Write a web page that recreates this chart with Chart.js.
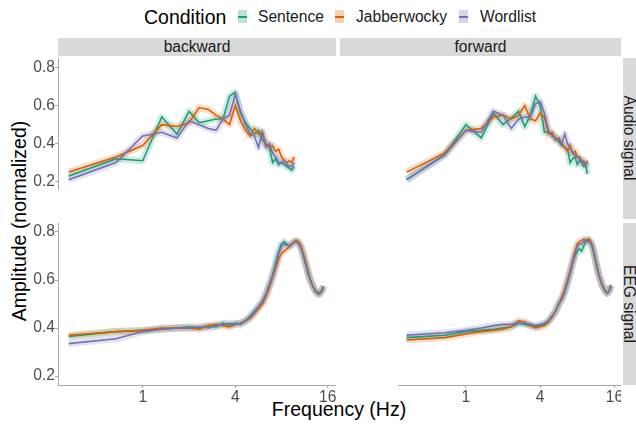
<!DOCTYPE html>
<html lang="en">
<head>
<meta charset="UTF-8">
<title>Amplitude spectra by condition</title>
<style>
  body { margin: 0; width: 636px; height: 425px; overflow: hidden; background: #fff; position: relative;
         font-family: "Liberation Sans", Arial, sans-serif; }
  canvas { position: absolute; }
  .strip { position: absolute; background: #d9d9d9; color: #1a1a1a; font-size: 15.6px;
           display: flex; align-items: center; justify-content: center; }
  .vstrip { writing-mode: vertical-rl; overflow: visible; }
  .vbg { position: absolute; background: #d9d9d9; }
  .txt { position: absolute; white-space: nowrap; line-height: 1; }
  .key { position: absolute; width: 9px; height: 13px; }
  .key i { position: absolute; left: 0; right: 0; top: 5.5px; height: 2px; }
</style>
</head>
<body>

<!-- legend -->
<div class="txt" style="left:144px; top:8px; font-size:19.5px; color:#000;">Condition</div>
<div class="key" style="left:238px; top:10px; background:rgba(27,158,119,0.3);"><i style="background:#1b9e77"></i></div>
<div class="txt" style="left:258px; top:9px; font-size:15.6px; color:#1a1a1a;">Sentence</div>
<div class="key" style="left:335px; top:10px; background:rgba(217,95,2,0.3);"><i style="background:#d95f02"></i></div>
<div class="txt" style="left:356px; top:9px; font-size:15.6px; color:#1a1a1a;">Jabberwocky</div>
<div class="key" style="left:459px; top:10px; background:rgba(117,112,179,0.3);"><i style="background:#7570b3"></i></div>
<div class="txt" style="left:480px; top:9px; font-size:15.6px; color:#1a1a1a;">Wordlist</div>

<!-- strips -->
<div class="strip" style="left:58px; top:38px; width:278px; height:18px;">backward</div>
<div class="strip" style="left:340px; top:38px; width:281px; height:18px;">forward</div>
<div class="vbg" style="left:623px; top:58px; width:20px; height:161px;"></div>
<div class="vbg" style="left:623px; top:223px; width:20px; height:162px;"></div>
<div class="txt" style="left:629px; top:138px; font-size:15.6px; color:#1a1a1a; transform:translate(-50%,-50%) rotate(90deg);">Audio signal</div>
<div class="txt" style="left:629px; top:304px; font-size:15.6px; color:#1a1a1a; transform:translate(-50%,-50%) rotate(90deg);">EEG signal</div>

<!-- axis titles -->
<div class="txt" style="left:20px; top:221px; font-size:19.5px; color:#000; transform:translate(-50%,-50%) rotate(-90deg);">Amplitude (normalized)</div>
<div class="txt" style="left:339px; top:410px; font-size:19.5px; color:#000; transform:translate(-50%,-50%);">Frequency (Hz)</div>

<canvas id="tl" width="336" height="161" style="left:0; top:58px;"></canvas>
<canvas id="tr" width="281" height="161" style="left:340px; top:58px;"></canvas>
<canvas id="bl" width="336" height="192" style="left:0; top:223px;"></canvas>
<canvas id="br" width="281" height="192" style="left:340px; top:223px;"></canvas>

<script src="https://cdn.jsdelivr.net/npm/chart.js"></script>
<script>
const conditions = ['Sentence', 'Jabberwocky', 'Wordlist'];
const colors = ['#1b9e77', '#d95f02', '#7570b3'];
const bands = ['rgba(27,158,119,0.2)', 'rgba(217,95,2,0.2)', 'rgba(117,112,179,0.2)'];
const xTicks = [1, 4, 16];
const yTicks = [0.2, 0.4, 0.6, 0.8];

const audioFreqs = [0.33, 0.67, 1, 1.33, 1.67, 2, 2.33, 2.67, 3, 3.33, 3.67, 4, 4.33, 4.67, 5,
  5.33, 5.67, 6, 6.33, 6.67, 7, 7.33, 7.67, 8, 8.33, 8.67, 9, 9.33, 9.67];
const eegFreqs = [0.33, 0.67, 1, 1.33, 1.67, 2, 2.33, 2.67, 3, 3.33, 3.67, 4, 4.33, 4.67, 5,
  5.33, 5.67, 6, 6.33, 6.67, 7, 7.33, 7.67, 8, 8.33, 8.67, 9, 9.33, 9.67, 10,
  10.33, 10.67, 11, 11.33, 11.67, 12, 12.33, 12.67, 13, 13.33, 13.67, 14, 14.33, 14.67, 15];

// audio signal, backward
const audioBwdSentence = [0.23, 0.32, 0.31, 0.54, 0.45, 0.57, 0.51, 0.52, 0.53, 0.53, 0.65, 0.67, 0.56, 0.51, 0.48,
  0.45, 0.47, 0.42, 0.40, 0.38, 0.30, 0.32, 0.29, 0.30, 0.29, 0.28, 0.27, 0.26, 0.28];
const audioBwdJabber = [0.25, 0.33, 0.39, 0.50, 0.49, 0.51, 0.59, 0.58, 0.55, 0.53, 0.50, 0.60, 0.52, 0.47, 0.44,
  0.48, 0.45, 0.46, 0.40, 0.38, 0.39, 0.36, 0.37, 0.33, 0.31, 0.30, 0.31, 0.30, 0.33];
const audioBwdWord = [0.21, 0.30, 0.44, 0.46, 0.43, 0.52, 0.50, 0.48, 0.47, 0.53, 0.55, 0.66, 0.57, 0.50, 0.45,
  0.44, 0.38, 0.46, 0.38, 0.40, 0.35, 0.33, 0.30, 0.30, 0.31, 0.29, 0.28, 0.28, 0.30];

// audio signal, forward
const audioFwdSentence = [0.21, 0.34, 0.50, 0.43, 0.56, 0.50, 0.535, 0.57, 0.49, 0.55, 0.65, 0.60, 0.46, 0.46, 0.45,
  0.43, 0.41, 0.39, 0.38, 0.37, 0.30, 0.32, 0.33, 0.29, 0.31, 0.30, 0.28, 0.29, 0.24];
const audioFwdJabber = [0.25, 0.35, 0.47, 0.48, 0.54, 0.55, 0.53, 0.55, 0.60, 0.53, 0.52, 0.56, 0.54, 0.45, 0.46,
  0.42, 0.43, 0.40, 0.38, 0.36, 0.39, 0.35, 0.36, 0.33, 0.33, 0.31, 0.30, 0.29, 0.31];
const audioFwdWord = [0.21, 0.34, 0.47, 0.46, 0.57, 0.55, 0.48, 0.53, 0.54, 0.54, 0.61, 0.62, 0.56, 0.47, 0.44,
  0.43, 0.42, 0.40, 0.45, 0.40, 0.38, 0.35, 0.34, 0.33, 0.32, 0.30, 0.31, 0.29, 0.30];

// EEG signal, backward
const eegBwdSentence = [0.365, 0.385, 0.39, 0.395, 0.40, 0.405, 0.40, 0.41, 0.405, 0.42, 0.41, 0.42, 0.415, 0.43, 0.45,
  0.47, 0.49, 0.51, 0.54, 0.58, 0.62, 0.67, 0.72, 0.75, 0.76, 0.75, 0.74, 0.75, 0.76, 0.76,
  0.755, 0.74, 0.71, 0.68, 0.65, 0.62, 0.60, 0.58, 0.565, 0.555, 0.55, 0.545, 0.55, 0.56, 0.575];
const eegBwdJabber = [0.37, 0.385, 0.39, 0.40, 0.40, 0.40, 0.395, 0.41, 0.415, 0.41, 0.405, 0.415, 0.42, 0.43, 0.44,
  0.46, 0.48, 0.50, 0.53, 0.57, 0.61, 0.65, 0.69, 0.71, 0.72, 0.73, 0.74, 0.75, 0.76, 0.765,
  0.76, 0.745, 0.72, 0.69, 0.66, 0.63, 0.60, 0.58, 0.565, 0.555, 0.545, 0.54, 0.545, 0.555, 0.57];
const eegBwdWord = [0.335, 0.355, 0.385, 0.395, 0.40, 0.40, 0.405, 0.40, 0.41, 0.415, 0.42, 0.415, 0.42, 0.43, 0.445,
  0.465, 0.49, 0.51, 0.54, 0.58, 0.62, 0.66, 0.71, 0.74, 0.75, 0.745, 0.745, 0.75, 0.755, 0.76,
  0.75, 0.735, 0.71, 0.68, 0.65, 0.62, 0.60, 0.58, 0.565, 0.55, 0.545, 0.54, 0.55, 0.555, 0.575];

// EEG signal, forward
const eegFwdSentence = [0.36, 0.37, 0.385, 0.39, 0.395, 0.40, 0.405, 0.42, 0.415, 0.41, 0.405, 0.41, 0.415, 0.43, 0.45,
  0.47, 0.50, 0.52, 0.55, 0.59, 0.63, 0.67, 0.70, 0.72, 0.73, 0.72, 0.74, 0.76, 0.77, 0.76,
  0.75, 0.73, 0.70, 0.67, 0.64, 0.62, 0.60, 0.585, 0.57, 0.56, 0.55, 0.545, 0.55, 0.565, 0.58];
const eegFwdJabber = [0.35, 0.36, 0.375, 0.385, 0.39, 0.395, 0.405, 0.43, 0.425, 0.41, 0.40, 0.405, 0.41, 0.425, 0.445,
  0.47, 0.50, 0.53, 0.56, 0.60, 0.64, 0.68, 0.72, 0.75, 0.76, 0.765, 0.77, 0.765, 0.76, 0.77,
  0.76, 0.74, 0.71, 0.68, 0.65, 0.62, 0.60, 0.58, 0.57, 0.56, 0.55, 0.545, 0.55, 0.56, 0.575];
const eegFwdWord = [0.37, 0.38, 0.39, 0.40, 0.41, 0.415, 0.415, 0.42, 0.42, 0.415, 0.41, 0.415, 0.42, 0.43, 0.45,
  0.47, 0.50, 0.52, 0.55, 0.59, 0.63, 0.67, 0.71, 0.74, 0.75, 0.75, 0.76, 0.765, 0.76, 0.76,
  0.755, 0.735, 0.705, 0.675, 0.645, 0.62, 0.60, 0.58, 0.57, 0.56, 0.55, 0.545, 0.55, 0.56, 0.575];

const tickFont = { family: '"Liberation Sans", Arial, sans-serif', size: 15.6 };
const axisGrey = '#a8a8a8';

function points(freqs, vals) {
    return vals.map((v, i) => ({ x: freqs[i], y: v }));
}

function makePanel(id, freqs, series, showY, showX, yMin, yMax) {
    const datasets = [];
    series.forEach((vals, i) => {
        // light band behind each line (the ribbon)
        datasets.push({
            label: conditions[i] + ' band',
            data: points(freqs, vals),
            borderColor: bands[i],
            borderWidth: 7,
            borderJoinStyle: 'round',
            pointRadius: 0,
            order: 20 - i
        });
        datasets.push({
            label: conditions[i],
            data: points(freqs, vals),
            borderColor: colors[i],
            borderWidth: 1.6,
            pointRadius: 0,
            order: 10 - i
        });
    });

    new Chart(document.getElementById(id), {
        type: 'line',
        data: { datasets: datasets },
        options: {
            responsive: false,
            animation: false,
            devicePixelRatio: 1,
            layout: { padding: 0 },
            plugins: { legend: { display: false }, tooltip: { enabled: false } },
            scales: {
                x: {
                    type: 'logarithmic',
                    min: 0.281,
                    max: 18.1,
                    display: showX,
                    afterBuildTicks: axis => { axis.ticks = xTicks.map(v => ({ value: v })); },
                    afterFit: axis => { axis.height = 30; axis.paddingLeft = 0; axis.paddingRight = 0; },
                    grid: { display: true, drawOnChartArea: false, drawTicks: true, tickLength: 3, color: axisGrey },
                    border: { display: true, color: axisGrey },
                    ticks: { color: '#4d4d4d', font: tickFont, padding: 0, maxRotation: 0, autoSkip: false,
                             callback: v => String(v) }
                },
                y: {
                    type: 'linear',
                    min: yMin,
                    max: yMax,
                    display: showY,
                    afterBuildTicks: axis => { axis.ticks = yTicks.map(v => ({ value: v })); },
                    afterFit: axis => { axis.width = 58; axis.paddingTop = 0; axis.paddingBottom = 0; },
                    grid: { display: true, drawOnChartArea: false, drawTicks: true, tickLength: 3, color: axisGrey },
                    border: { display: true, color: axisGrey },
                    ticks: { color: '#4d4d4d', font: tickFont, padding: 0, callback: v => v.toFixed(1) }
                }
            }
        }
    });
}

makePanel('tl', audioFreqs, [audioBwdSentence, audioBwdJabber, audioBwdWord], true, false, 0.161, 0.851);
makePanel('tr', audioFreqs, [audioFwdSentence, audioFwdJabber, audioFwdWord], false, false, 0.161, 0.851);
makePanel('bl', eegFreqs, [eegBwdSentence, eegBwdJabber, eegBwdWord], true, true, 0.1625, 0.8375);
makePanel('br', eegFreqs, [eegFwdSentence, eegFwdJabber, eegFwdWord], false, true, 0.1625, 0.8375);
</script>
</body>
</html>
